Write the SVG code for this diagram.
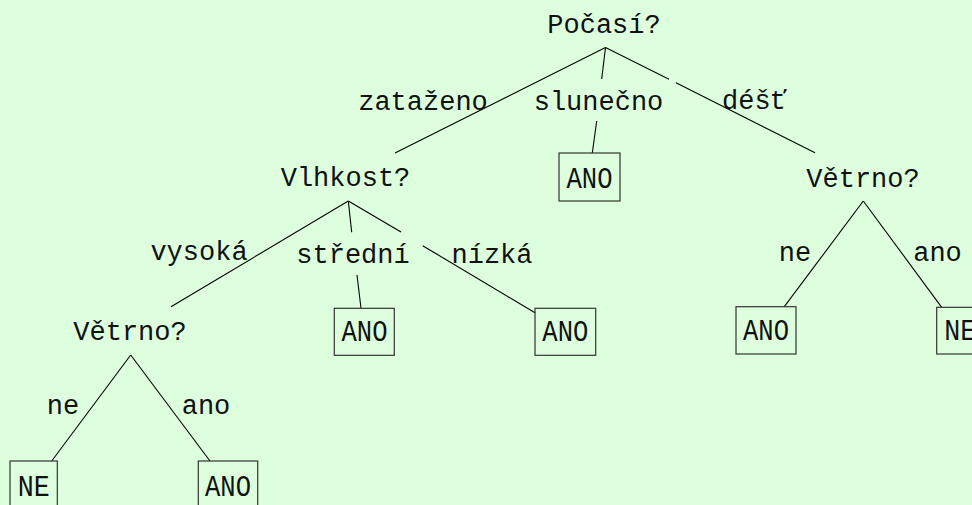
<svg xmlns="http://www.w3.org/2000/svg" width="972" height="505" viewBox="0 0 972 505">
<style>
  .bg { fill: #ddffdd; }
  .t { font-family: "Liberation Mono", "DejaVu Sans Mono", monospace; font-size: 27px; fill: #111; text-anchor: middle; }
  .leaf { font-family: "Liberation Mono", "DejaVu Sans Mono", monospace; font-size: 29px; fill: #111; text-anchor: middle; }
  .box { fill: none; stroke: #333; stroke-width: 1.2; }
  .edge line { stroke: #000; stroke-width: 1.1; }
</style>
<rect class="bg" x="0" y="0" width="972" height="505"/>

<g id="connectors" class="edge">
  <line x1="605.5" y1="47.5" x2="395" y2="153"/>
  <line x1="605.5" y1="47.5" x2="601.7" y2="79"/>
  <line x1="596.7" y1="121" x2="592.3" y2="153"/>
  <line x1="605.5" y1="47.5" x2="669" y2="79.3"/>
  <line x1="676" y1="82.8" x2="815" y2="152.7"/>
  <line x1="348.3" y1="201" x2="171" y2="306.7"/>
  <line x1="348.3" y1="201" x2="351.7" y2="232.3"/>
  <line x1="357" y1="275" x2="361" y2="308.3"/>
  <line x1="348.3" y1="201" x2="401" y2="232"/>
  <line x1="422.7" y1="245.7" x2="535" y2="312.7"/>
  <line x1="863.3" y1="201" x2="784.3" y2="306.7"/>
  <line x1="863.3" y1="201" x2="941.7" y2="307.3"/>
  <line x1="130.7" y1="355" x2="51.7" y2="461"/>
  <line x1="130.7" y1="355" x2="210" y2="461"/>
</g>

<g id="edge-labels">
  <text class="t" x="423" y="110">zataženo</text>
  <text class="t" x="598.5" y="110">slunečno</text>
  <text class="t" x="754.5" y="109">déšť</text>
  <text class="t" x="199" y="260">vysoká</text>
  <text class="t" x="353" y="263">střední</text>
  <text class="t" x="492" y="263">nízká</text>
  <text class="t" x="795" y="260.7">ne</text>
  <text class="t" x="937.5" y="260.7">ano</text>
  <text class="t" x="63" y="414">ne</text>
  <text class="t" x="206" y="414">ano</text>
</g>

<g id="n-pocasi"><text class="t" x="604" y="32.7">Počasí?</text></g>
<g id="n-vlhkost"><text class="t" x="345.5" y="186">Vlhkost?</text></g>
<g id="n-vetrno-r"><text class="t" x="863" y="187">Větrno?</text></g>
<g id="n-vetrno-l"><text class="t" x="130" y="340">Větrno?</text></g>

<g id="leaf-slunecno">
  <rect class="box" x="559" y="153" width="61" height="48"/>
  <text class="leaf" x="589.5" y="187.5" textLength="46" lengthAdjust="spacingAndGlyphs">ANO</text>
</g>
<g id="leaf-stredni">
  <rect class="box" x="334.3" y="308.3" width="60" height="47"/>
  <text class="leaf" x="364.5" y="340.7" textLength="46" lengthAdjust="spacingAndGlyphs">ANO</text>
</g>
<g id="leaf-nizka">
  <rect class="box" x="535" y="308.3" width="60.7" height="47"/>
  <text class="leaf" x="565.3" y="340.7" textLength="46" lengthAdjust="spacingAndGlyphs">ANO</text>
</g>
<g id="leaf-r-ne">
  <rect class="box" x="736" y="306.7" width="60" height="47.3"/>
  <text class="leaf" x="766" y="339.5" textLength="46" lengthAdjust="spacingAndGlyphs">ANO</text>
</g>
<g id="leaf-r-ano">
  <rect class="box" x="936.7" y="307.3" width="47.3" height="46.7"/>
  <text class="leaf" x="960.3" y="340" textLength="32" lengthAdjust="spacingAndGlyphs">NE</text>
</g>
<g id="leaf-l-ne">
  <rect class="box" x="10" y="461" width="47.3" height="47"/>
  <text class="leaf" x="33.7" y="496" textLength="32" lengthAdjust="spacingAndGlyphs">NE</text>
</g>
<g id="leaf-l-ano">
  <rect class="box" x="198.3" y="461" width="59.4" height="47"/>
  <text class="leaf" x="228" y="496" textLength="46" lengthAdjust="spacingAndGlyphs">ANO</text>
</g>
</svg>
